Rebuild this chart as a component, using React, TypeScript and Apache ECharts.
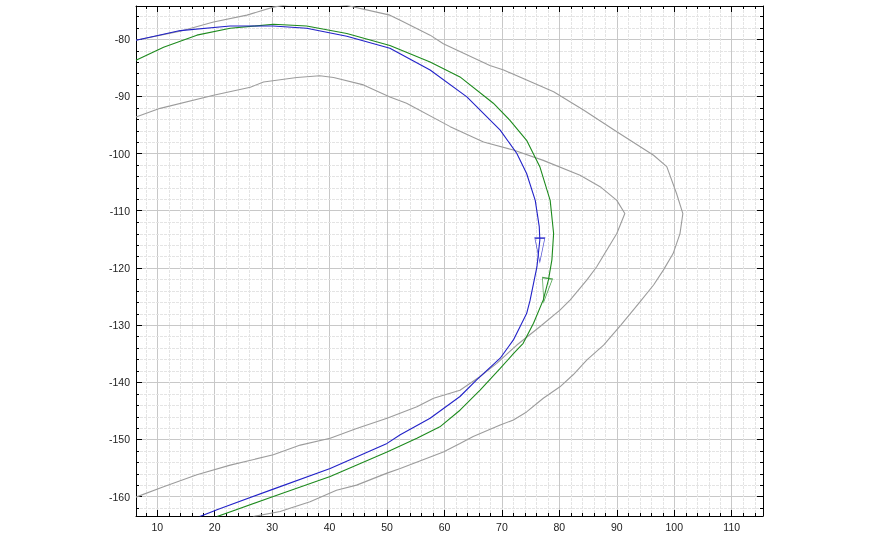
import React, { useEffect, useRef } from 'react';
import * as echarts from 'echarts';

// Track points [x, y]
const blueTrack: number[][] = [
  [6.3, -80.2], [9.9, -79.4], [14.0, -78.5], [22.7, -77.7], [30.2, -77.7], [36.0, -78.1],
  [43.0, -79.5], [50.5, -81.6], [57.5, -85.4], [63.9, -90.1], [69.7, -95.9], [72.6, -100.0],
  [74.3, -103.5], [75.8, -108.2], [76.5, -112.8], [76.6, -115.1], [76.1, -119.8], [74.9, -125.7],
  [74.3, -128.0], [72.0, -132.6], [69.7, -135.8], [65.6, -139.6], [62.7, -142.5], [57.5, -146.3],
  [52.3, -149.2], [50.0, -150.7], [40.1, -155.1], [30.2, -158.7], [20.4, -162.3], [17.4, -163.5],
];

const greenTrack: number[][] = [
  [6.3, -83.7], [11.1, -81.4], [16.9, -79.3], [22.7, -78.1], [30.2, -77.4], [36.0, -77.7],
  [43.0, -79.0], [50.5, -81.1], [57.5, -84.0], [62.7, -86.6], [68.5, -91.2], [71.4, -94.2],
  [74.3, -97.7], [76.6, -102.3], [78.4, -108.2], [79.0, -114.0], [78.7, -118.6], [78.1, -122.1],
  [77.2, -125.6], [75.5, -129.7], [73.7, -133.2], [72.0, -135.0], [69.7, -137.6], [66.2, -141.4],
  [62.7, -144.9], [59.2, -147.8], [55.2, -149.8], [50.0, -152.2], [40.1, -156.5], [30.2, -160.0],
  [20.4, -163.5],
];

const outerBound: number[][] = [
  [6.3, -80.2], [14.0, -78.6], [19.8, -77.0], [25.6, -75.8], [30.2, -74.4], [36.5, -73.3],
  [43.0, -74.1], [50.5, -75.8], [52.3, -76.7], [57.5, -79.3], [59.8, -80.8], [67.9, -84.6],
  [70.3, -85.4], [79.0, -89.2], [84.2, -92.4], [90.0, -96.2], [96.4, -100.3], [98.7, -102.3],
  [100.4, -107.0], [101.5, -110.5], [101.0, -114.0], [99.8, -117.5], [98.1, -120.4], [96.4, -123.0],
  [94.0, -126.0], [90.7, -130.0], [87.7, -133.5], [84.8, -136.1], [82.4, -138.7], [80.1, -140.8],
  [77.2, -142.8], [74.3, -145.2], [72.0, -146.6], [69.7, -147.5], [65.0, -149.5], [62.7, -150.7],
  [59.8, -152.2], [52.3, -155.1], [50.0, -155.9], [44.7, -158.0], [41.2, -158.9], [36.6, -160.9],
  [31.4, -162.6], [26.7, -163.5],
];

const innerBound: number[][] = [
  [6.3, -93.6], [10.5, -92.1], [19.8, -89.8], [26.2, -88.4], [28.5, -87.5], [34.3, -86.7],
  [38.3, -86.4], [40.7, -86.7], [45.9, -88.0], [50.5, -90.1], [53.4, -91.2], [61.0, -95.3],
  [66.8, -98.0], [72.0, -99.4], [77.2, -101.2], [83.6, -103.8], [87.1, -105.8], [90.0, -108.2],
  [91.4, -110.5], [90.0, -114.0], [86.5, -119.8], [84.8, -122.1], [81.9, -125.6], [80.1, -127.4],
  [76.6, -130.3], [72.6, -133.5], [69.1, -136.7], [66.2, -139.0], [62.7, -141.4], [58.1, -142.8],
  [55.2, -144.3], [50.0, -146.3], [44.7, -148.1], [40.1, -149.8], [34.9, -151.0], [30.2, -152.7],
  [22.7, -154.5], [16.9, -156.2], [11.1, -158.3], [6.3, -160.1],
];

// Direction arrows: [x, y, rotation]
const blueArrow: number[][] = [[76.6, -116.9, 180]];
const greenArrow: number[][] = [[77.6, -123.9, 171]];

// Axis ranges
const xRange = [6.3, 115.45];
const yRange = [-163.4, -74.2];
const majorStep = 10;
const minorStep = 2;

function minorValues(lo: number, hi: number): number[] {
  const out: number[] = [];
  const start = Math.ceil(lo / minorStep) * minorStep;
  for (let v = start; v < hi; v += minorStep) {
    if (Math.abs(v % majorStep) > 1e-6 && v > lo && v < hi) out.push(v);
  }
  return out;
}

const BLUE = '#2222c8';
const GREEN = '#1d8a1d';
const GREY = '#9c9c9c';

export default function App() {
  const ref = useRef<HTMLDivElement>(null);
  useEffect(() => {
    document.body.style.margin = '0';
    if (!ref.current) return;
    const chart = echarts.init(ref.current, null, { renderer: 'svg' });

    const minorData: number[][] = [
      ...minorValues(xRange[0], xRange[1]).map((v) => [v, 0]),
      ...minorValues(yRange[0], yRange[1]).map((v) => [v, 1]),
    ];

    const baseAxis = {
      type: 'value',
      axisLine: { show: true, onZero: false, lineStyle: { color: '#000', width: 1 } },
      axisTick: { show: true, inside: true, length: 6, lineStyle: { color: '#000' } },
    };

    chart.setOption({
      animation: false,
      grid: { left: 136, right: 110, top: 6, bottom: 22, containLabel: false },
      xAxis: [
        {
          ...baseAxis,
          position: 'bottom',
          min: xRange[0],
          max: xRange[1],
          splitNumber: 11,
          axisLabel: {
            show: true, margin: 5, fontSize: 10.5, color: '#222',
            fontFamily: 'Liberation Sans, Arial, sans-serif',
            showMinLabel: false, showMaxLabel: false,
          },
          splitLine: { show: true, lineStyle: { color: '#c8c8c8', width: 1 } },
        },
        {
          ...baseAxis,
          position: 'top',
          min: xRange[0],
          max: xRange[1],
          splitNumber: 11,
          axisLabel: { show: false },
          splitLine: { show: false },
        },
      ],
      yAxis: [
        {
          ...baseAxis,
          position: 'left',
          min: yRange[0],
          max: yRange[1],
          splitNumber: 9,
          axisLabel: {
            show: true, margin: 6, fontSize: 10.5, color: '#222',
            fontFamily: 'Liberation Sans, Arial, sans-serif',
            showMinLabel: false, showMaxLabel: false,
          },
          splitLine: { show: true, lineStyle: { color: '#c8c8c8', width: 1 } },
        },
        {
          ...baseAxis,
          position: 'right',
          min: yRange[0],
          max: yRange[1],
          splitNumber: 9,
          axisLabel: { show: false },
          splitLine: { show: false },
        },
      ],
      series: [
        {
          type: 'custom',
          silent: true,
          z: 1,
          data: minorData,
          renderItem: (params: any, api: any) => {
            const v = api.value(0);
            const kind = api.value(1);
            const cs = params.coordSys;
            if (kind === 0) {
              const x = Math.round(api.coord([v, yRange[0]])[0]) + 0.5;
              return {
                type: 'group',
                children: [
                  { type: 'line', shape: { x1: x, y1: cs.y, x2: x, y2: cs.y + cs.height }, style: { stroke: '#e4e4e4', lineWidth: 1, lineDash: [3, 1] } },
                  { type: 'line', shape: { x1: x, y1: cs.y + cs.height, x2: x, y2: cs.y + cs.height - 3 }, style: { stroke: '#000', lineWidth: 1 } },
                  { type: 'line', shape: { x1: x, y1: cs.y, x2: x, y2: cs.y + 3 }, style: { stroke: '#000', lineWidth: 1 } },
                ],
              };
            }
            const y = Math.round(api.coord([xRange[0], v])[1]) + 0.5;
            return {
              type: 'group',
              children: [
                { type: 'line', shape: { x1: cs.x, y1: y, x2: cs.x + cs.width, y2: y }, style: { stroke: '#e4e4e4', lineWidth: 1, lineDash: [3, 1] } },
                { type: 'line', shape: { x1: cs.x, y1: y, x2: cs.x + 3, y2: y }, style: { stroke: '#000', lineWidth: 1 } },
                { type: 'line', shape: { x1: cs.x + cs.width, y1: y, x2: cs.x + cs.width - 3, y2: y }, style: { stroke: '#000', lineWidth: 1 } },
              ],
            };
          },
        },
        {
          type: 'line', data: outerBound, showSymbol: false, symbol: 'none', z: 3,
          lineStyle: { color: GREY, width: 1.1 }, clip: true,
        },
        {
          type: 'line', data: innerBound, showSymbol: false, symbol: 'none', z: 3,
          lineStyle: { color: GREY, width: 1.1 }, clip: true,
        },
        {
          type: 'line', data: greenTrack, showSymbol: false, symbol: 'none', z: 4,
          lineStyle: { color: GREEN, width: 1.1 }, clip: true,
        },
        {
          type: 'line', data: blueTrack, showSymbol: false, symbol: 'none', z: 5,
          lineStyle: { color: BLUE, width: 1.1 }, clip: true,
        },
        {
          type: 'scatter', z: 6,
          data: blueArrow.map((d) => ({ value: [d[0], d[1]], symbolRotate: d[2] })),
          symbol: 'triangle', symbolSize: [10, 24],
          itemStyle: { color: 'rgba(255,255,255,0)', borderColor: BLUE, borderWidth: 1 },
        },
        {
          type: 'scatter', z: 6,
          data: greenArrow.map((d) => ({ value: [d[0], d[1]], symbolRotate: d[2] })),
          symbol: 'triangle', symbolSize: [10, 24],
          itemStyle: { color: 'rgba(255,255,255,0)', borderColor: GREEN, borderWidth: 1 },
        },
      ],
    });
    return () => chart.dispose();
  }, []);
  return <div ref={ref} style={{ position: 'fixed', left: 0, top: 0, width: 873, height: 538 }} />;
}
